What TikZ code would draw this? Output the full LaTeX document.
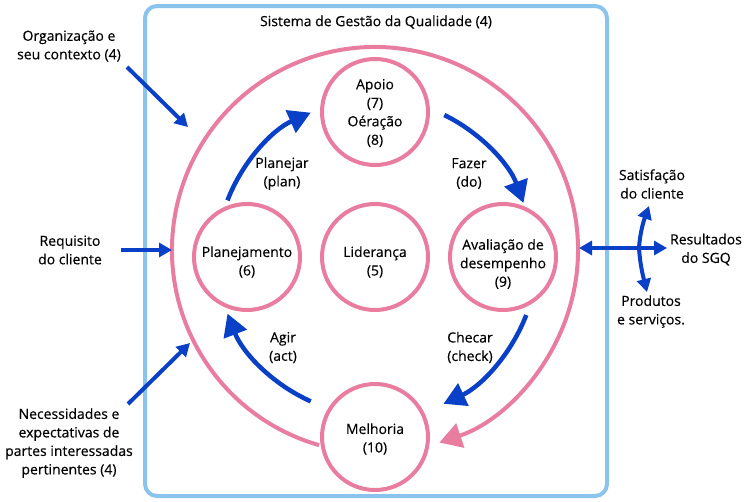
\documentclass[tikz,border=0pt]{standalone}
\usepackage{fontspec}
\setmainfont{Open Sans}[FakeBold=0.35]
\usetikzlibrary{arrows.meta,calc}
\definecolor{qblue}{RGB}{10,64,200}
\definecolor{qpink}{RGB}{232,125,160}
\definecolor{qframe}{RGB}{138,196,236}
\tikzset{
 pdca/.style={circle, draw=qpink, line width=4pt, fill=white, minimum size=106pt, inner sep=0pt},
 txt/.style={align=center, font=\fontsize{14}{18.5}\selectfont, inner sep=0pt, text=black},
 bluearc/.style={draw=qblue, line width=4.5pt, -{Triangle[length=22pt,width=24pt]}},
 extarrow/.style={draw=qblue, line width=4pt, -{Triangle[length=13pt,width=14pt]}},
 bigarc/.style={draw=qpink, line width=4pt, -{Triangle[length=22pt,width=25pt]}},
 qframebox/.style={draw=qframe, line width=4pt, rounded corners=12pt},
}
\begin{document}
\begin{tikzpicture}[x=1pt,y=-1pt]
\useasboundingbox (0,0) rectangle (751,501);
\fill[white] (0,0) rectangle (751,501);
% frame
\draw[qframebox] (145,6) rectangle (607,496);
\node[txt] (title) at (376,22) {Sistema de Gestão da Qualidade (4)};
% big cycle
\coordinate (bc) at (375,250);
\draw[bigarc] ($(bc)+(106:203)$) arc[start angle=106, end angle=431.5, radius=203];
% circles
\node[pdca] (apoio) at (375,112) {};
\node[pdca] (plan) at (247,257) {};
\node[pdca] (lider) at (375,257) {};
\node[pdca] (aval) at (503,257) {};
\node[pdca] (melh) at (375,437) {};
\node[txt] (apoiot) at (375,113) {Apoio\\(7)\\Oéração\\(8)};
\node[txt] (plant) at (247,262) {Planejamento\\(6)};
\node[txt] (lidert) at (375,262) {Liderança\\(5)};
\node[txt] (avalt) at (503,264) {Avaliação de\\desempenho\\(9)};
\node[txt] (melht) at (375,439) {Melhoria\\(10)};
% PDCA arcs
\coordinate (pc) at (375,257);
\draw[bluearc] ($(pc)+(201:158)$) arc[start angle=201, end angle=246, radius=158];
\draw[bluearc] ($(pc)+(296:158)$) arc[start angle=296, end angle=340, radius=158];
\draw[bluearc] ($(pc)+(21:162)$) arc[start angle=21, end angle=65, radius=162];
\draw[bluearc] ($(pc)+(114:158)$) arc[start angle=114, end angle=159, radius=158];
\node[txt] (planl) at (282,173.5) {Planejar\\(plan)};
\node[txt] (fazl) at (469,173.5) {Fazer\\(do)};
\node[txt] (agirl) at (283,347.5) {Agir\\(act)};
\node[txt] (checl) at (470,347.5) {Checar\\(check)};
% left inputs
\node[txt] (org) at (69,46) {Organização e\\seu contexto (4)};
\node[txt] (req) at (70,250) {Requisito\\do cliente};
\node[txt] (nec) at (69,443) {Necessidades e\\expectativas de\\partes interessadas\\pertinentes (4)};
\coordinate (orgA) at (127,67);
\coordinate (orgB) at (188,127);
\coordinate (reqA) at (121,250);
\coordinate (reqB) at (172,250);
\coordinate (necA) at (128,404);
\coordinate (necB) at (190,343);
\draw[extarrow] (orgA) -- (orgB);
\draw[extarrow] (reqA) -- (reqB);
\draw[extarrow] (necA) -- (necB);
% right outputs
\coordinate (outL) at (579,248);
\coordinate (outR) at (667,248);
\coordinate (junc) at (639,248);
\coordinate (outU) at (649,206);
\coordinate (outD) at (647,292);
\draw[extarrow, {Triangle[length=13pt,width=14pt]}-{Triangle[length=13pt,width=14pt]}] (outL) -- (outR);
\draw[extarrow] (junc) .. controls (640,232) and (644,220) .. (outU);
\draw[extarrow] (junc) .. controls (640,264) and (643,276) .. (outD);
\node[txt] (sat) at (652,184) {Satisfação\\do cliente};
\node[txt] (res) at (706,249.5) {Resultados\\do SGQ};
\node[txt] (prod) at (651,311.5) {Produtos\\e serviços.};
\end{tikzpicture}
\end{document}
